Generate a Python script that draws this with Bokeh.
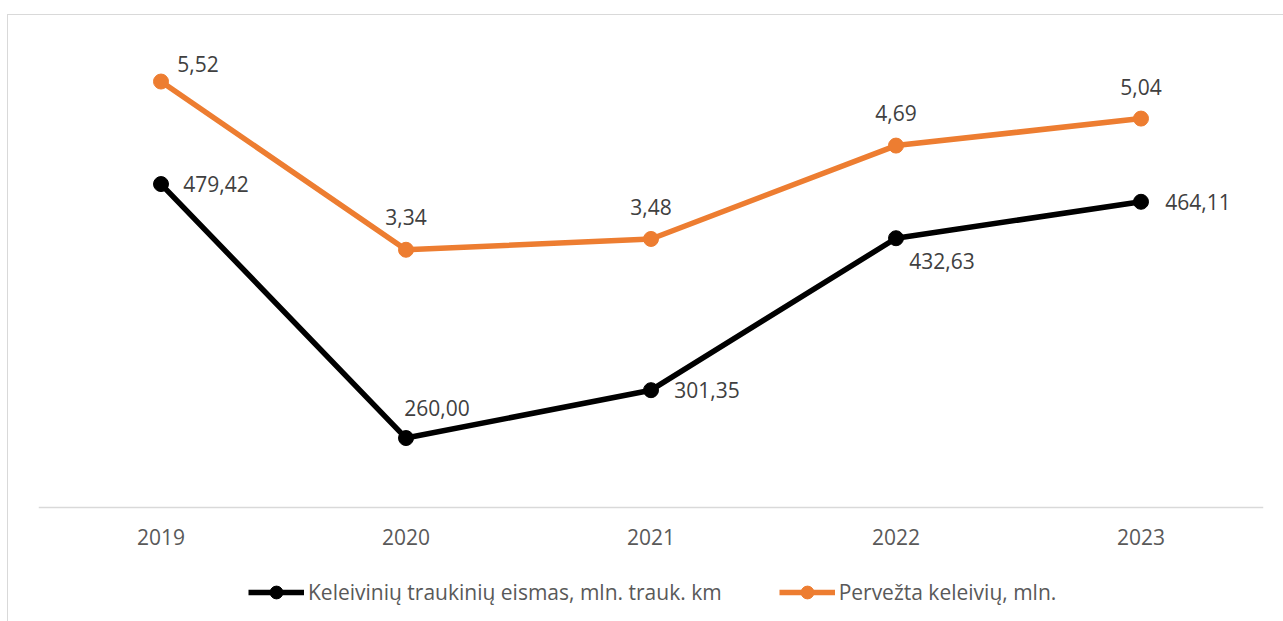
from bokeh.plotting import figure
from bokeh.models import FactorRange, Range1d, Legend, LegendItem, ColumnDataSource
from bokeh.embed import file_html
from bokeh.resources import INLINE
from bokeh.core.properties import value

# ---- data ----
years = ["2019", "2020", "2021", "2022", "2023"]
traffic = [479.42, 260.00, 301.35, 432.63, 464.11]       # Keleivinių traukinių eismas, mln. trauk. km
passengers = [5.52, 3.34, 3.48, 4.69, 5.04]              # Pervežta keleivių, mln.
traffic_name = "Keleivinių traukinių eismas, mln. trauk. km"
passengers_name = "Pervežta keleivių, mln."

# ---- axis ranges (value shown at plot-area top / at category axis) ----
traffic_axis = (200, 600)
passengers_axis = (0, 6)

# ---- label placement (screen px) ----
traffic_dx = [55, 31, 56, 46, 57]
traffic_dy = [0, -30, 0, 23, 0]
passengers_dx = [37, 0, 0, 0, 0]
passengers_dy = [-18, -33, -32, -33, -32]

def fmt(v):
    return f"{v:.2f}".replace(".", ",")

FONT = "Open Sans"
FS = "21px"
BLACK = "#000000"
ORANGE = "#ED7D31"

# plot-area geometry: value area is 463 px tall; the frame extends below it
# so the legend can sit inside the frame under the category axis
VALUE_H = 463
FRAME_H = 600

def extended(lo, hi):
    return Range1d(hi - (hi - lo) * FRAME_H / VALUE_H, hi)

src_t = ColumnDataSource(dict(x=years, y=traffic, lab=[fmt(v) for v in traffic],
                              dx=traffic_dx, dy=traffic_dy))
src_p = ColumnDataSource(dict(x=years, y=passengers, lab=[fmt(v) for v in passengers],
                              dx=passengers_dx, dy=passengers_dy))

p = figure(x_range=FactorRange(*years, range_padding=0), y_range=extended(*traffic_axis),
           frame_width=1225, frame_height=FRAME_H, output_backend="svg", toolbar_location=None,
           min_border_left=30, min_border_right=20, min_border_top=29, min_border_bottom=0)
p.extra_y_ranges = {"pass": extended(*passengers_axis)}
p.styles = {"margin-top": "14px", "margin-left": "7px",
            "border-top": "1px solid #d9d9d9", "border-left": "1px solid #d9d9d9"}
p.outline_line_color = None
p.xgrid.visible = False
p.ygrid.visible = False
p.yaxis.visible = False

ax = p.xaxis[0]
ax.fixed_location = traffic_axis[0]
ax.axis_line_color = "#d9d9d9"
ax.axis_line_width = 1.5
ax.major_tick_line_color = None
ax.minor_tick_line_color = None
ax.major_label_text_font = FONT
ax.major_label_text_font_size = FS
ax.major_label_text_color = "#595959"
ax.major_label_standoff = 15

lt = p.line("x", "y", source=src_t, line_color=BLACK, line_width=5.5)
mt = p.scatter("x", "y", source=src_t, size=15, fill_color=BLACK, line_color=BLACK)
lp = p.line("x", "y", source=src_p, line_color=ORANGE, line_width=5.5, y_range_name="pass")
mp = p.scatter("x", "y", source=src_p, size=15, fill_color=ORANGE, line_color=ORANGE, y_range_name="pass")

p.text("x", "y", text="lab", source=src_t, x_offset="dx", y_offset="dy",
       text_align="center", text_baseline="middle", text_font=value(FONT),
       text_font_size=FS, text_color="#404040")
p.text("x", "y", text="lab", source=src_p, x_offset="dx", y_offset="dy", y_range_name="pass",
       text_align="center", text_baseline="middle", text_font=value(FONT),
       text_font_size=FS, text_color="#404040")

legend = Legend(items=[LegendItem(label=traffic_name, renderers=[lt, mt]),
                       LegendItem(label=passengers_name, renderers=[lp, mp])],
                orientation="horizontal", location=(210, 36),
                glyph_width=56, glyph_height=32, label_standoff=4, spacing=57,
                padding=2, margin=0, border_line_color=None, background_fill_alpha=0,
                label_text_font=FONT, label_text_font_size=FS, label_text_color="#595959")
p.add_layout(legend)

open("out.html", "w").write(file_html(p, INLINE))
